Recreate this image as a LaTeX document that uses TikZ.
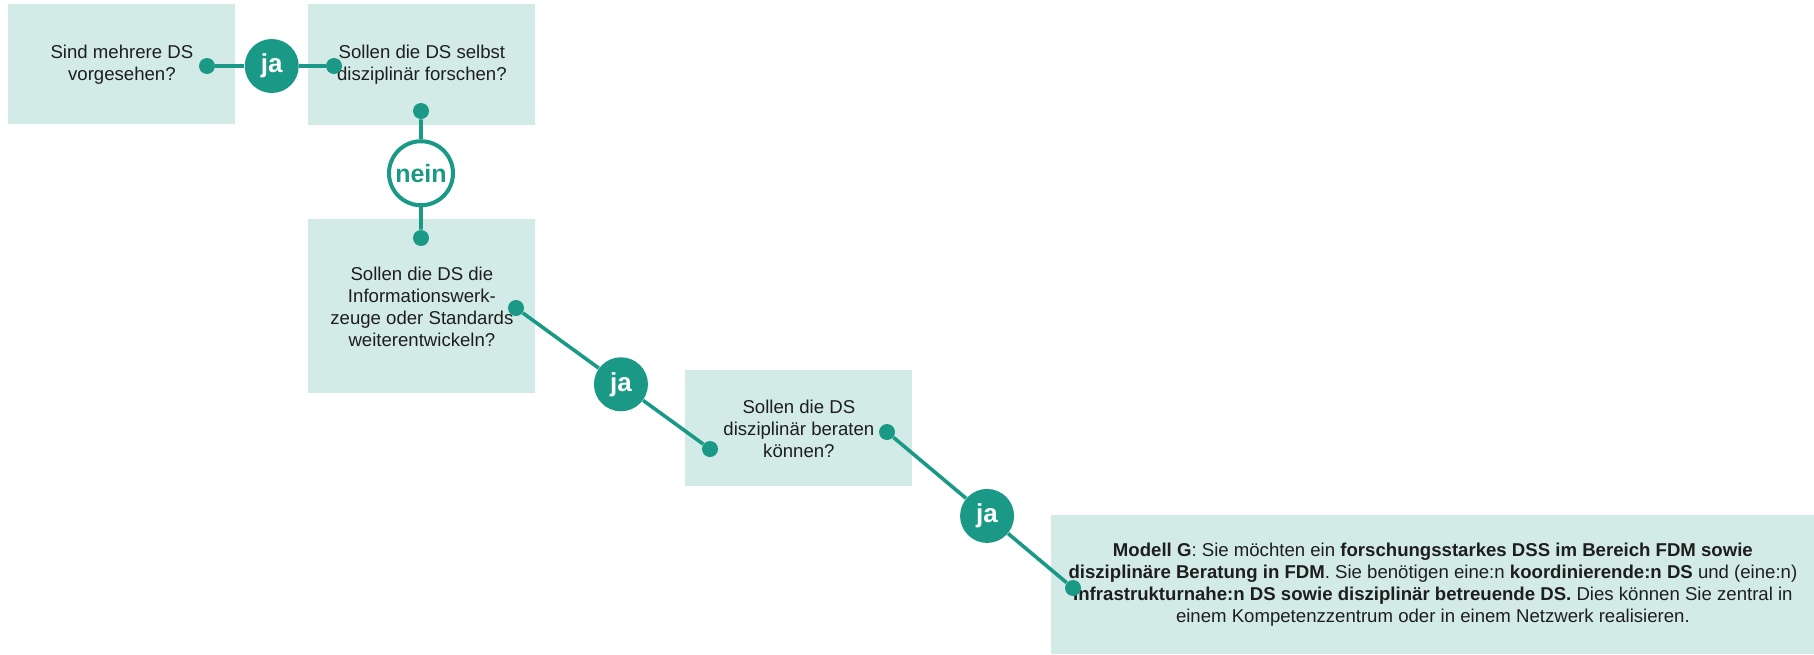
\documentclass[tikz,border=0pt]{standalone}
\usepackage{fontspec}
\setmainfont{Liberation Sans}
\usetikzlibrary{calc}
\definecolor{teal1}{RGB}{27,153,135}
\definecolor{boxfill}{RGB}{211,235,230}
\definecolor{txt}{RGB}{30,30,30}
\tikzset{
  qbox/.style={fill=boxfill, draw=none, inner sep=0pt, anchor=north west, align=center,
    text=txt, font=\fontsize{9.3pt}{11pt}\selectfont},
  dotn/.style={circle, fill=teal1, inner sep=0pt, minimum size=8pt},
  jalbl/.style={circle, fill=teal1, inner sep=0pt, minimum size=27pt, text=white,
    font=\fontsize{13pt}{14pt}\selectfont\bfseries},
  neinlbl/.style={circle, fill=white, draw=teal1, line width=2pt, inner sep=0pt, minimum size=32pt,
    text=teal1, font=\fontsize{12.5pt}{14pt}\selectfont\bfseries},
  conn/.style={draw=teal1, line width=1.8pt}
}
\begin{document}
\begin{tikzpicture}[x=0.5pt, y=-0.5pt]
\useasboundingbox (0,0) rectangle (1814,654);
% boxes
\node[qbox, minimum width=113.5pt, minimum height=60pt] (b1) at (8,4)
  {Sind mehrere DS\\vorgesehen?};
\node[qbox, minimum width=113.5pt, minimum height=60.5pt] (b2) at (308,4)
  {Sollen die DS selbst\\disziplinär forschen?};
\node[qbox, minimum width=113.5pt, minimum height=87pt] (b3) at (308,219)
  {Sollen die DS die\\Informationswerk-\\zeuge oder Standards\\weiterentwickeln?};
\node[qbox, minimum width=113.5pt, minimum height=58pt] (b4) at (685,370)
  {Sollen die DS\\disziplinär beraten\\können?};
\node[qbox, minimum width=381.5pt, minimum height=69.5pt] (b5) at (1051,515)
  {\textbf{Modell G}: Sie möchten ein \textbf{forschungsstarkes DSS im Bereich FDM sowie}\\
   \textbf{disziplinäre Beratung in FDM}. Sie benötigen eine:n \textbf{koordinierende:n DS} und (eine:n)\\
   \textbf{Infrastrukturnahe:n DS sowie disziplinär betreuende DS.} Dies können Sie zentral in\\
   einem Kompetenzzentrum oder in einem Netzwerk realisieren.};
% dots
\node[dotn] (d1) at (207,66) {};
\node[dotn] (d2) at (334,66) {};
\node[dotn] (d3) at (421,111) {};
\node[dotn] (d4) at (421,238) {};
\node[dotn] (d5) at (516,308) {};
\node[dotn] (d6) at (710,449) {};
\node[dotn] (d7) at (887,432) {};
\node[dotn] (d8) at (1073,588) {};
% labels
\node[jalbl] (ja1) at ($(d1)!0.51!(d2)$) {ja};
\node[neinlbl] (nein) at ($(d3)!0.49!(d4)$) {nein};
\node[jalbl] (ja2) at ($(d5)!0.541!(d6)$) {ja};
\node[jalbl] (ja3) at ($(d7)!0.538!(d8)$) {ja};
% connectors
\draw[conn] (d1) -- (ja1) -- (d2);
\draw[conn] (d3) -- (nein) -- (d4);
\draw[conn] (d5) -- (ja2) -- (d6);
\draw[conn] (d7) -- (ja3) -- (d8);
\end{tikzpicture}
\end{document}
